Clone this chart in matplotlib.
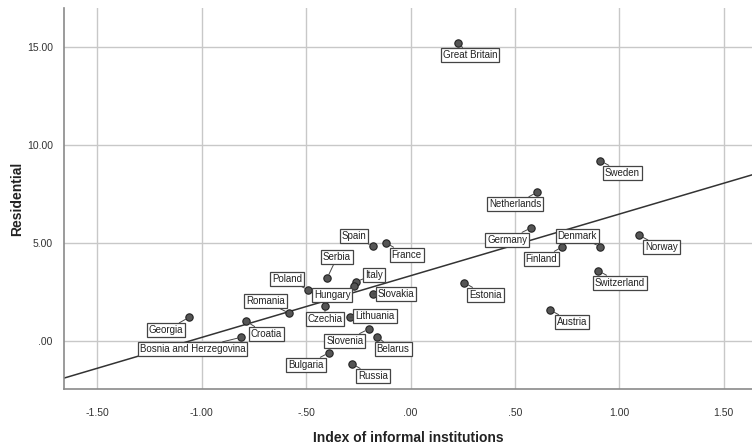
import matplotlib
matplotlib.use('Agg')
import matplotlib.pyplot as plt
from matplotlib.ticker import FuncFormatter

# Data
countries = ['Great Britain', 'Sweden', 'Netherlands', 'Germany', 'Denmark', 'Finland',
             'Norway', 'Switzerland', 'Estonia', 'Austria', 'Spain', 'France', 'Serbia',
             'Poland', 'Italy', 'Hungary', 'Slovakia', 'Romania', 'Czechia', 'Lithuania',
             'Georgia', 'Croatia', 'Bosnia and Herzegovina', 'Slovenia', 'Belarus',
             'Bulgaria', 'Russia']
informal = [0.227, 0.909, 0.607, 0.578, 0.909, 0.727,
            1.096, 0.898, 0.258, 0.668, -0.18, -0.12, -0.40,
            -0.49, -0.26, -0.27, -0.18, -0.58, -0.41, -0.29,
            -1.06, -0.79, -0.81, -0.20, -0.16,
            -0.39, -0.28]
residential = [15.22, 9.20, 7.60, 5.78, 4.81, 4.81,
               5.39, 3.59, 2.97, 1.58, 4.83, 5.02, 3.20,
               2.60, 3.03, 2.82, 2.40, 1.41, 1.79, 1.21,
               1.21, 1.02, 0.19, 0.61, 0.20,
               -0.60, -1.17]

# Fit line
fit_slope = 3.15
fit_intercept = 3.33

x_ticks = [-1.5, -1.0, -0.5, 0.0, 0.5, 1.0, 1.5]
y_ticks = [0, 5, 10, 15]

# Label offsets in pixels (dx right, dy up)
label_offsets = {
    'Great Britain': (12, -12), 'Sweden': (22, -12), 'Netherlands': (-22, -12),
    'Germany': (-24, -12), 'Denmark': (-23, 11), 'Finland': (-21, -12),
    'Norway': (22, -12), 'Switzerland': (22, -12), 'Estonia': (21, -12),
    'Austria': (22, -12), 'Spain': (-19, 10), 'France': (21, -12),
    'Serbia': (10, 21), 'Poland': (-21, 11), 'Italy': (18, 7),
    'Hungary': (-22, -9), 'Slovakia': (23, 0), 'Romania': (-24, 12),
    'Czechia': (0, -13), 'Lithuania': (25, 1), 'Georgia': (-23, -13),
    'Croatia': (21, -13), 'Bosnia and Herzegovina': (-49, -12),
    'Slovenia': (-24, -12), 'Belarus': (16, -12), 'Bulgaria': (-23, -12),
    'Russia': (21, -12),
}

plt.rcParams['font.family'] = ['Liberation Sans', 'DejaVu Sans']

fig = plt.figure(figsize=(7.52, 4.46), dpi=100)
ax = fig.add_axes([0.085, 0.128, 0.915, 0.854])

xmin, xmax = -1.66, 1.635
ymin, ymax = -2.45, 17.0
ax.set_xlim(xmin, xmax)
ax.set_ylim(ymin, ymax)

ax.set_xticks(x_ticks)
ax.set_yticks(y_ticks)

def spss_fmt(v, pos):
    s = '%.2f' % v
    s = s.replace('-0.', '-.')
    if s.startswith('0.'):
        s = s[1:]
    return s

ax.xaxis.set_major_formatter(FuncFormatter(spss_fmt))
ax.yaxis.set_major_formatter(FuncFormatter(spss_fmt))
ax.tick_params(length=0, labelsize=7.5, colors='#333333')
ax.tick_params(axis='x', pad=14)
ax.tick_params(axis='y', pad=8)

ax.grid(True, color='#c8c8c8', lw=1.0)
ax.set_axisbelow(True)
for s in ['top', 'right']:
    ax.spines[s].set_visible(False)
for s in ['left', 'bottom']:
    ax.spines[s].set_color('#8a8a8a')
    ax.spines[s].set_linewidth(1.2)

# Fit line
ax.plot([xmin, xmax], [fit_intercept + fit_slope * xmin, fit_intercept + fit_slope * xmax],
        color='#333333', lw=1.1, zorder=2)

# Points
ax.scatter(informal, residential, s=28, color='#555555', edgecolor='#222222',
           linewidth=0.8, zorder=4)

# Labels
for name, xv, yv in zip(countries, informal, residential):
    dx, dy = label_offsets[name]
    ax.annotate(name, (xv, yv), xytext=(dx, dy), textcoords='offset pixels',
                ha='center', va='center', fontsize=7, color='#222222',
                bbox=dict(boxstyle='square,pad=0.2', fc='white', ec='#444444', lw=0.9),
                arrowprops=dict(arrowstyle='-', color='#444444', lw=0.7,
                                shrinkA=0, shrinkB=3),
                zorder=5)

ax.set_xlabel('Index of informal institutions', fontsize=10, fontweight='bold',
              color='#222222')
ax.set_ylabel('Residential', fontsize=10, fontweight='bold', color='#222222')
ax.xaxis.set_label_coords(0.5, -0.11)
ax.yaxis.set_label_coords(-0.058, 0.5)

fig.savefig('out.png', dpi=100)
